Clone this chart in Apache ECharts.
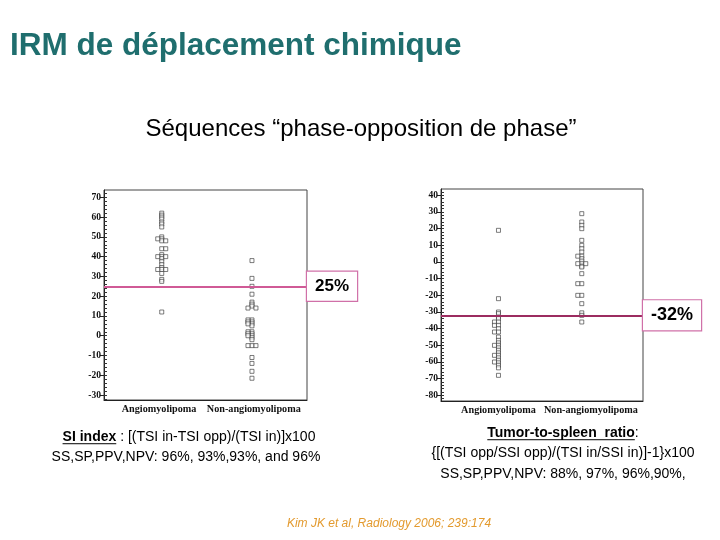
<!DOCTYPE html>
<html><head><meta charset="utf-8">
<script src="https://cdn.jsdelivr.net/npm/echarts@6/dist/echarts.min.js"></script>
<style>html,body{margin:0;padding:0;background:#fff}#c{width:720px;height:540px}</style>
</head><body><div id="c"></div>
<script>
// ---------- data ----------
const groupNames = ['Angiomyolipoma', 'Non-angiomyolipoma'];

// Left chart: SI index (%)
const siTicks = [-30, -20, -10, 0, 10, 20, 30, 40, 50, 60, 70];
const siThreshold = 25;
const siAmlCenter = [62, 61, 60, 59, 57.5, 56.5, 55, 50, 49, 48, 44, 41, 40, 39, 37.5, 36, 34.5, 33.5, 31.5, 28.5, 27.5, 12];
const siAmlLeft = [49, 40, 33.5];
const siAmlRight = [48, 44, 40, 33.5];
const siNonCenter = [38, 29, 25, 21, 17, 16, 15, 8, 7, 6, 5, 2, 1, 0, -1, -2, -5, -11, -14, -18, -21.5];
const siNonLeft = [14, 8, 7, 6, 2, 1, 0, -5];
const siNonRight = [14, -5];

// Right chart: tumor-to-spleen ratio (%)
const tsrTicks = [-80, -70, -60, -50, -40, -30, -20, -10, 0, 10, 20, 30, 40];
const tsrThreshold = -32;
const tsrAmlCenter = [19, -22, -30, -31, -33, -34, -36, -38, -40, -42, -45, -47, -48.5, -50, -51.5, -53, -54.5, -56, -57.5, -59, -60.5, -62, -63.5, -68];
const tsrAmlLeft = [-36, -38, -42, -50, -56, -60];
const tsrAmlRight = [];
const tsrNonCenter = [29, 24, 22, 20, 13, 10, 8, 6, 3.5, 2, 0.5, -1, -2.5, -3, -7, -13, -20, -25, -30.5, -32, -36];
const tsrNonLeft = [3.5, -1, -13, -20];
const tsrNonRight = [-1];

// ---------- helpers ----------
const sans = '"Liberation Sans", Arial, sans-serif';
const serif = '"Liberation Serif", "Times New Roman", serif';
const mctx = document.createElement('canvas').getContext('2d');
function tw(text, weight, size) { mctx.font = weight + ' ' + size + 'px ' + sans; return mctx.measureText(text).width; }

function minorTicks(min, max) { const a = []; for (let v = Math.ceil(min / 2) * 2; v <= max; v += 2) a.push(v); return a; }

const siMin = -32.5, siMax = 73.7;
const tsrMin = -83.4, tsrMax = 43.8;

function xAxis(gridIndex, min, max, labelPos) {
  return {
    gridIndex, type: 'value', min, max, position: 'bottom',
    axisLine: { show: true, onZero: false, lineStyle: { color: '#222', width: 1 } },
    axisTick: { show: false },
    axisLabel: {
      customValues: labelPos, formatter: v => groupNames[v < 1.5 ? 0 : 1],
      fontFamily: serif, fontWeight: 'bold', fontSize: 10.2, color: '#111', margin: 4,
      hideOverlap: false, showMinLabel: true, showMaxLabel: true
    },
    splitLine: { show: false }
  };
}
function yAxes(gridIndex, min, max, majors) {
  return [
    {
      gridIndex, type: 'value', min, max, position: 'left',
      axisLine: { show: true, onZero: false, lineStyle: { color: '#222', width: 1 } },
      axisTick: { show: true, customValues: majors, length: 4, inside: false, lineStyle: { color: '#222' } },
      axisLabel: { customValues: majors, fontFamily: serif, fontWeight: 'bold', fontSize: 9.5, color: '#111', margin: 3 },
      splitLine: { show: false }
    },
    {
      gridIndex, type: 'value', min, max, position: 'left',
      axisLine: { show: false, onZero: false },
      axisTick: { show: true, customValues: minorTicks(min, max), length: 3, inside: true, lineStyle: { color: '#333' } },
      axisLabel: { show: false }, splitLine: { show: false }
    }
  ];
}
function scatter(xIdx, yIdx, group, values, offset, markLine) {
  const s = {
    type: 'scatter', xAxisIndex: xIdx, yAxisIndex: yIdx,
    data: values.map(v => [group, v]),
    symbol: 'rect', symbolSize: 4, symbolOffset: [offset, 0],
    itemStyle: { color: '#fff', borderColor: '#333', borderWidth: 0.8 },
    silent: true, z: 3, emphasis: { disabled: true }
  };
  if (markLine) s.markLine = markLine;
  return s;
}
function threshLine(value, color, fontSize, padH, padV) {
  return {
    silent: true, symbol: ['none', 'none'], animation: false,
    data: [{ yAxis: value }],
    lineStyle: { color, width: 2, type: 'solid' },
    emphasis: { disabled: true },
    label: {
      show: true, position: 'end', distance: 0, formatter: value + '%',
      fontFamily: sans, fontWeight: 'bold', fontSize, color: '#000',
      backgroundColor: '#fff', borderColor: '#d070a8', borderWidth: 1.2,
      padding: [padV, padH, padV, padH]
    }
  };
}

const off = 4;
const series = [
  scatter(0, 0, 1, siAmlCenter, 0, threshLine(siThreshold, '#d05a96', 17, 8, 6)),
  scatter(0, 0, 1, siAmlLeft, -off),
  scatter(0, 0, 1, siAmlRight, off),
  scatter(0, 0, 2, siNonCenter, 0),
  scatter(0, 0, 2, siNonLeft, -off),
  scatter(0, 0, 2, siNonRight, off),
  scatter(1, 2, 1, tsrAmlCenter, 0, threshLine(tsrThreshold, '#9c2c60', 18, 8, 6)),
  scatter(1, 2, 1, tsrAmlLeft, -off),
  scatter(1, 2, 1, tsrAmlRight, off),
  scatter(1, 2, 2, tsrNonCenter, 0),
  scatter(1, 2, 2, tsrNonLeft, -off),
  scatter(1, 2, 2, tsrNonRight, off)
];

// ---------- captions ----------
const graphics = [];
function addText(x, y, text, opts) {
  graphics.push({
    type: 'text', x, y, silent: true,
    style: Object.assign({ text, fill: '#000', font: (opts.weight || 'normal') + ' ' + opts.size + 'px ' + sans,
      textAlign: opts.align || 'left', textVerticalAlign: 'middle' }, opts.style || {})
  });
}
function boldUnderlineLine(cx, y, boldPart, rest, size) {
  const wb = tw(boldPart, 'bold', size), wr = tw(rest, 'normal', size);
  const left = cx - (wb + wr) / 2;
  addText(left, y, boldPart, { weight: 'bold', size });
  addText(left + wb, y, rest, { size });
  graphics.push({ type: 'line', silent: true, shape: { x1: left, y1: y + size * 0.48, x2: left + wb, y2: y + size * 0.48 },
    style: { stroke: '#000', lineWidth: 1 } });
}

graphics.push({
  type: 'text', x: 10, y: 46, silent: true,
  style: { text: 'IRM de déplacement chimique', font: 'bold 31.5px ' + sans, fill: '#1f6e6e',
    textAlign: 'left', textVerticalAlign: 'middle',
    shadowColor: 'rgba(0,0,0,0.3)', shadowOffsetX: 2, shadowOffsetY: 2, shadowBlur: 2 }
});
addText(361, 129, 'Séquences “phase-opposition de phase”', { size: 24, align: 'center' });

boldUnderlineLine(189, 437, 'SI index', ' : [(TSI in-TSI opp)/(TSI in)]x100', 14);
addText(186, 457, 'SS,SP,PPV,NPV: 96%, 93%,93%, and 96%', { size: 14, align: 'center' });

boldUnderlineLine(563, 433, 'Tumor-to-spleen  ratio', ':', 14);
addText(563, 453, '{[(TSI opp/SSI opp)/(TSI in/SSI in)]-1}x100', { size: 14, align: 'center' });
addText(563, 474, 'SS,SP,PPV,NPV: 88%, 97%, 96%,90%,', { size: 14, align: 'center' });

graphics.push({
  type: 'text', x: 389, y: 524, silent: true,
  style: { text: 'Kim JK et al, Radiology 2006; 239:174', font: 'italic 12px ' + sans, fill: '#e39a2e',
    textAlign: 'center', textVerticalAlign: 'middle' }
});

const chart = echarts.init(document.getElementById('c'), null, { renderer: 'canvas' });
chart.setOption({
  animation: false,
  backgroundColor: '#fff',
  grid: [
    { left: 104, top: 190, width: 203, height: 210, show: true, borderColor: '#444', borderWidth: 1, backgroundColor: 'transparent' },
    { left: 441, top: 189, width: 202, height: 212, show: true, borderColor: '#444', borderWidth: 1, backgroundColor: 'transparent' }
  ],
  xAxis: [xAxis(0, 0.36, 2.61, [0.97, 2.02]), xAxis(1, 0.31, 2.735, [1, 2.11])],
  yAxis: [...yAxes(0, siMin, siMax, siTicks), ...yAxes(1, tsrMin, tsrMax, tsrTicks)],
  series,
  graphic: graphics
});
</script>
</body></html>
